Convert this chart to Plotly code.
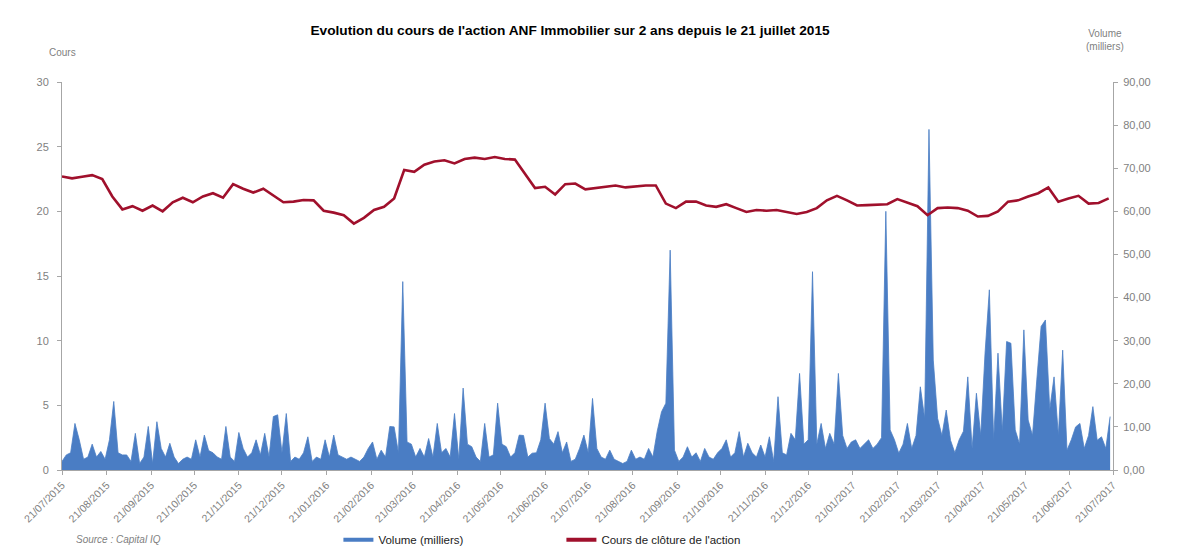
import pandas as pd
import plotly.graph_objects as go

# Closing price (EUR), weekly readings from 21/07/2015
price_close = [
    22.70, 22.55, 22.68, 22.80, 22.50, 21.15, 20.15, 20.40, 20.05, 20.45,
    20.00, 20.70, 21.05, 20.70, 21.15, 21.40, 21.05, 22.10, 21.75, 21.45,
    21.75, 21.20, 20.70, 20.75, 20.88, 20.85, 20.05, 19.90, 19.70, 19.05,
    19.50, 20.10, 20.35, 21.00, 23.20, 23.05, 23.60, 23.85, 23.95, 23.70,
    24.05, 24.15, 24.05, 24.20, 24.05, 24.00, 22.90, 21.80, 21.90, 21.30,
    22.10, 22.15, 21.70, 21.80, 21.95, 22.00, 21.85, 21.95, 22.00, 22.00,
    20.60, 20.25, 20.75, 20.75, 20.45, 20.35, 20.55, 20.25, 19.95, 20.10,
    20.05, 20.10, 19.95, 19.80, 19.95, 20.25, 20.85, 21.20, 20.85, 20.45,
    20.48, 20.50, 20.55, 20.95, 20.65, 20.40, 19.70, 20.25, 20.30, 20.25,
    20.05, 19.60, 19.65, 20.00, 20.75, 20.85, 21.15, 21.40, 21.85, 20.75,
    21.00, 21.20, 20.60, 20.65, 21.00,
]

# Volume (thousands), readings every 3 days from 21/07/2015
volume_k = [
    2, 3.5, 4, 10.8, 7, 2.5, 3, 6, 3, 4.3,
    2.5, 7, 15.9, 4, 3.5, 3.5, 2, 8.5, 1.5, 3,
    10.1, 1.5, 11.2, 5, 3, 6.2, 3, 1.5, 2.5, 3,
    2.5, 7, 3, 8.1, 4.5, 4, 3, 2.5, 10.1, 3,
    2, 8.7, 5, 3, 4, 7, 3.5, 8.5, 3, 12.4,
    12.8, 4, 13.1, 2, 3, 2.5, 4, 7.7, 2, 3,
    2.5, 7, 3, 8.1, 3.5, 3, 2.5, 3, 2.5, 2,
    3, 5, 6.5, 2.5, 4.6, 3, 10.1, 10, 4, 43.7,
    6.5, 6, 3, 5, 3, 7.3, 3, 10.8, 4, 5,
    3, 13.1, 2.5, 19, 6, 5.4, 3, 2, 10.8, 3,
    3.5, 15.5, 6, 5.4, 3, 4, 8.1, 8, 3, 3.9,
    4, 7, 15.5, 7.3, 6, 8.9, 4, 6.5, 2, 2.5,
    5, 8.1, 4, 16.6, 5, 3, 2.5, 4.6, 2.5, 2,
    1.5, 2, 4.6, 2.5, 3, 2.5, 5, 3, 9, 13.5,
    15.5, 51, 4.6, 2, 3, 5.4, 3, 4, 2, 5,
    3, 2.5, 4, 5, 7, 3, 4, 8.9, 3, 6.2,
    4, 3, 5.8, 3, 7.7, 2, 17, 4, 3.5, 8.5,
    7, 22.4, 6, 7, 46, 6, 10.8, 5, 8.5, 6,
    22.4, 8, 5, 6.5, 7, 5, 6, 7, 5, 6,
    7.5, 60, 9.3, 7, 3.9, 6, 10.8, 5, 8, 19.3,
    12, 79, 25.5, 12, 8, 13.9, 6.9, 4, 7, 9,
    21.6, 5, 17.8, 8, 27.1, 41.8, 7, 27.1, 9, 29.8,
    29.4, 9.3, 6, 32.5, 11.6, 8, 20.9, 33.3, 34.8, 14,
    21.6, 8, 27.8, 4.6, 7, 10, 10.8, 5, 8, 14.7,
    6.9, 7.7, 5, 12.4,
]

start_date = "2015-07-21"
end_date = "2017-07-21"
price_dates = pd.date_range(start_date, periods=len(price_close), freq="7D")
volume_dates = pd.date_range(start_date, periods=len(volume_k), freq="3D")
tick_dates = [pd.Timestamp(start_date) + pd.DateOffset(months=m) for m in range(25)]

BLUE = "#4A7DC4"
RED = "#A0102C"
GREY = "#7F7F7F"
AXIS = "#A6A6A6"
FONT = "Liberation Sans, Arial, sans-serif"

fig = go.Figure()
fig.add_trace(go.Scatter(
    x=volume_dates, y=volume_k, mode="lines", fill="tozeroy",
    line=dict(color=BLUE, width=0.8), fillcolor=BLUE,
    yaxis="y", showlegend=False, name="Volume (milliers)",
))
fig.add_trace(go.Scatter(
    x=price_dates, y=price_close, mode="lines",
    line=dict(color=RED, width=2.6),
    yaxis="y2", showlegend=False, name="Cours de clôture de l'action",
))
# legend entries
fig.add_trace(go.Scatter(x=[None], y=[None], mode="lines", line=dict(color=BLUE, width=4),
                         name="Volume (milliers)", yaxis="y"))
fig.add_trace(go.Scatter(x=[None], y=[None], mode="lines", line=dict(color=RED, width=4),
                         name="Cours de clôture de l'action", yaxis="y2"))

fig.update_layout(
    width=1182, height=539, autosize=False,
    margin=dict(l=54, r=77, t=74, b=77, autoexpand=False),
    paper_bgcolor="white", plot_bgcolor="white",
    separators=", ",
    font=dict(family=FONT, color=GREY, size=11),
    title=dict(
        text="<b>Evolution du cours de l'action ANF Immobilier sur 2 ans depuis le 21 juillet 2015</b>",
        x=0.4755, xanchor="center", y=0.9592, yanchor="middle",
        font=dict(family=FONT, size=13.7, color="black"),
    ),
    xaxis=dict(
        type="date", range=[start_date, end_date], automargin=False,
        tickvals=tick_dates, tickformat="%d/%m/%Y", tickangle=-45,
        showgrid=False, zeroline=False, showline=True, linecolor=AXIS,
        ticks="outside", ticklen=4, tickcolor=AXIS,
        tickfont=dict(size=10.5, color=GREY),
    ),
    yaxis=dict(
        side="right", range=[0, 90], tickvals=[0, 10, 20, 30, 40, 50, 60, 70, 80, 90],
        tickformat=".2f", showgrid=False, zeroline=False, showline=True, automargin=False,
        linecolor=AXIS, ticks="outside", ticklen=4, tickcolor=AXIS,
        ticklabelstandoff=3,
        tickfont=dict(size=11, color=GREY),
    ),
    yaxis2=dict(
        side="left", overlaying="y", range=[0, 30], tickvals=[0, 5, 10, 15, 20, 25, 30],
        showgrid=False, zeroline=False, showline=True, automargin=False,
        linecolor=AXIS, ticks="outside", ticklen=4, tickcolor=AXIS,
        ticklabelstandoff=6,
        tickfont=dict(size=11, color=GREY),
    ),
    legend=dict(
        orientation="h", x=0.263, xanchor="left", y=-0.18, yanchor="middle",
        font=dict(family=FONT, size=11.5, color="#222222"),
        entrywidth=178, entrywidthmode="pixels", itemwidth=30,
        bgcolor="rgba(0,0,0,0)",
    ),
    annotations=[
        dict(text="Cours", xref="paper", yref="paper", x=0.0, y=1.077,
             xanchor="center", yanchor="middle", showarrow=False,
             font=dict(family=FONT, size=10, color=GREY)),
        dict(text="Volume<br>(milliers)", xref="paper", yref="paper", x=0.9924, y=1.108,
             xanchor="center", yanchor="middle", showarrow=False,
             font=dict(family=FONT, size=10, color=GREY)),
        dict(text="<i>Source : Capital IQ</i>", xref="paper", yref="paper", x=0.011, y=-0.18,
             xanchor="left", yanchor="middle", showarrow=False,
             font=dict(family=FONT, size=10, color=GREY)),
    ],
)

fig.write_html("out.html")
